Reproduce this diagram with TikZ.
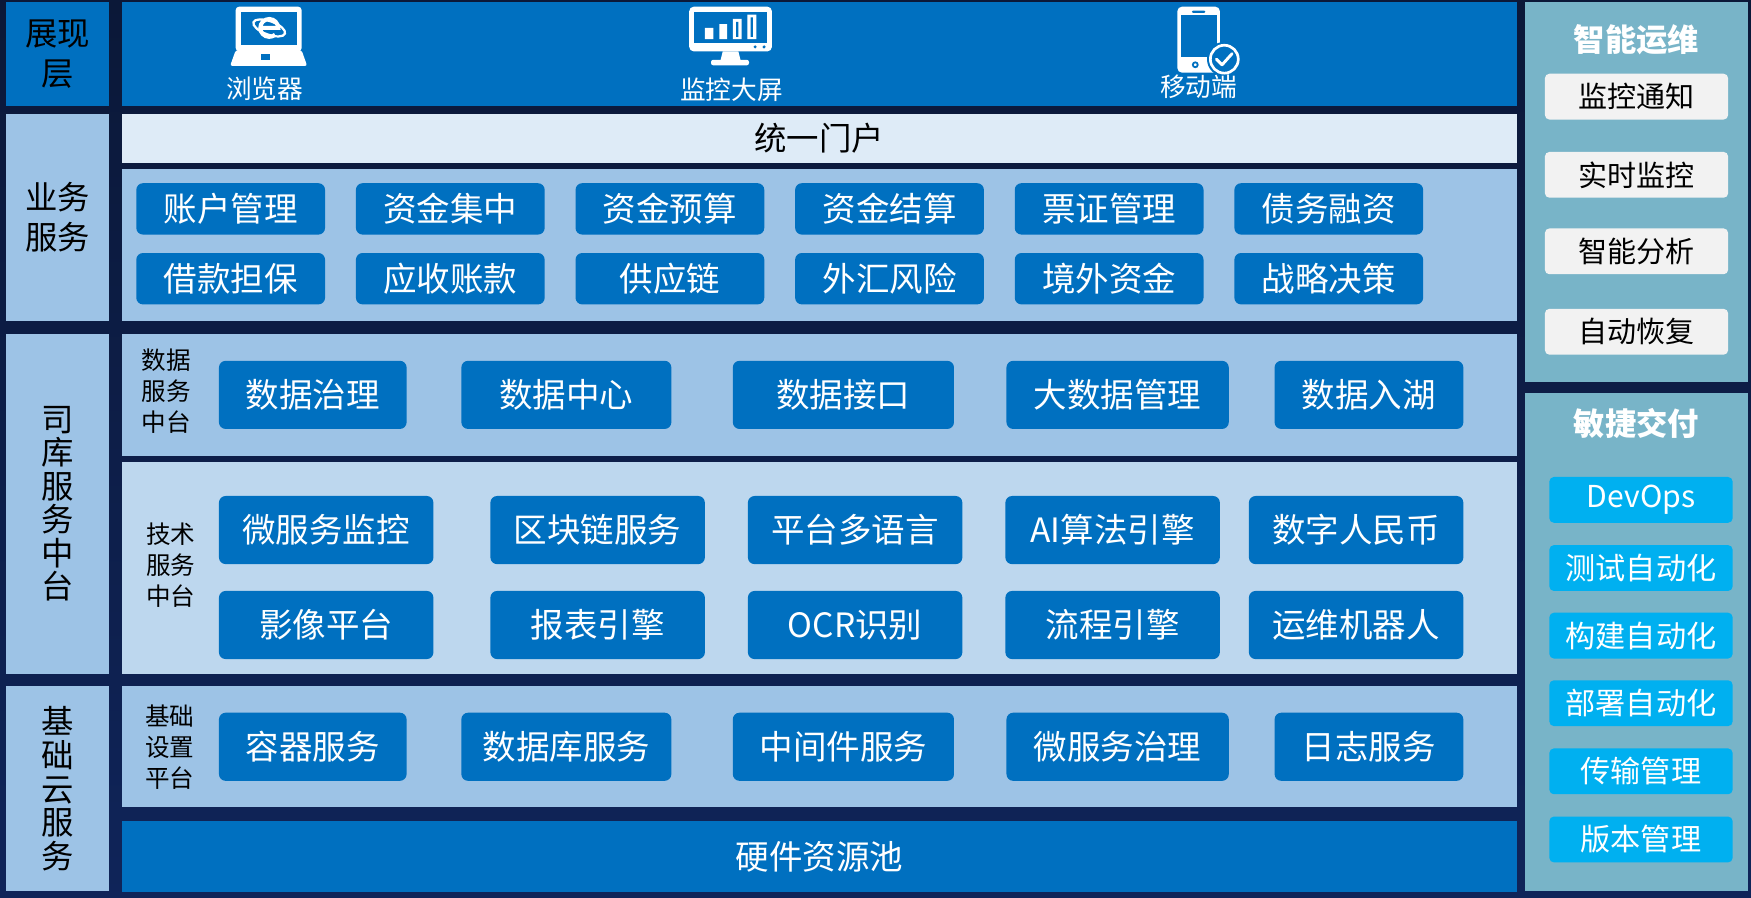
\documentclass[tikz,border=0pt]{standalone}
\usepackage{fontspec}
\setmainfont{Noto Sans CJK SC}
\usetikzlibrary{positioning}
\definecolor{navytop}{HTML}{0B1838}
\definecolor{navybot}{HTML}{0F2459}
\definecolor{mainblue}{HTML}{0070C0}
\definecolor{lightblue}{HTML}{9DC3E6}
\definecolor{paleblue}{HTML}{BDD7EE}
\definecolor{portal}{HTML}{DEEBF7}
\definecolor{teal}{HTML}{78B4C8}
\definecolor{opsgray}{HTML}{F2F2F2}
\definecolor{cyanbox}{HTML}{00B0F0}
\begin{document}
\begin{tikzpicture}[x=0.5pt, y=-0.5pt, every node/.style={inner sep=0pt, outer sep=0pt}]
\tikzstyle{panel}=[rectangle, minimum width=624.5pt]
\tikzstyle{cell}=[rectangle, fill=lightblue, minimum width=46.5pt, text=black, align=center, font=\fontsize{14.5pt}{18pt}\selectfont]
\tikzstyle{side}=[rectangle, fill=teal, minimum width=100pt]
\tikzstyle{bluebox}=[rectangle, rounded corners=3pt, fill=mainblue, text=white, minimum height=23pt, font=\fontsize{15pt}{18pt}\selectfont]
\tikzstyle{sublabel}=[align=center, text=black, font=\fontsize{11pt}{14pt}\selectfont]
\tikzstyle{toplabel}=[text=white, font=\fontsize{11.5pt}{14pt}\selectfont]
\tikzstyle{sidetitle}=[text=white, font=\fontsize{14pt}{16pt}\selectfont\bfseries]
\tikzstyle{opsbox}=[rectangle, rounded corners=2pt, fill=opsgray, text=black, minimum width=82pt, minimum height=20.5pt, font=\fontsize{13pt}{16pt}\selectfont]
\tikzstyle{agilebox}=[rectangle, rounded corners=2pt, fill=cyanbox, text=white, minimum width=82pt, minimum height=20.5pt, font=\fontsize{13.5pt}{16pt}\selectfont]
\useasboundingbox (0,0) rectangle (1567.5,803);
\shade[top color=navytop, bottom color=navybot] (0,0) rectangle (1567.5,803);
% left column
\node[cell, fill=mainblue, minimum height=46.5pt] (show) at (51.5,48.5) {展现\\层};
\node[cell, minimum height=92.5pt] (biz) at (51.5,194.5) {业务\\服务};
\node[cell, minimum height=152pt, font=\fontsize{14.5pt}{15pt}\selectfont] (treasury) at (51.5,451) {司\\库\\服\\务\\中\\台};
\node[cell, minimum height=92pt, font=\fontsize{14.5pt}{15pt}\selectfont] (cloud) at (51.5,706) {基\\础\\云\\服\\务};
% main panels
\node[panel, fill=mainblue, minimum height=46.5pt] (showpanel) at (733.5,48.5) {};
\node[panel, fill=portal, minimum height=22pt, font=\fontsize{14.5pt}{16pt}\selectfont] (portalbar) at (733.5,124) {统一门户};
\node[panel, fill=lightblue, minimum height=68pt] (bizpanel) at (733.5,219) {};
\node[panel, fill=lightblue, minimum height=54.5pt] (datapanel) at (733.5,353.5) {};
\node[panel, fill=paleblue, minimum height=94.75pt] (techpanel) at (733.5,508.25) {};
\node[panel, fill=lightblue, minimum height=54.25pt] (basepanel) at (733.5,668.25) {};
\node[panel, fill=mainblue, minimum height=31.75pt, text=white, font=\fontsize{15pt}{18pt}\selectfont] (hardware) at (733.5,766.75) {硬件资源池};
% right panels
\node[side, minimum height=170pt] (opspanel) at (1465,172) {};
\node[side, minimum height=223pt] (agilepanel) at (1465,575) {};
% icons: browser
\fill[white, rounded corners=1.5pt] (211,6) rectangle (270,46);
\fill[mainblue] (215.5,10.5) rectangle (266,40);
\fill[white, rounded corners=1pt] (211,45) -- (270,45) -- (275,59) -- (206,59) -- cycle;
\fill[mainblue] (233.5,48.5) rectangle (241.5,54);
\draw[white, line width=1pt, rotate around={-20:(241,25)}] (241,25) ellipse (15 and 6);
\draw[white, line width=1.8pt] (233,25) -- (249,25) arc (0:-310:8);
\node[toplabel] (browser) at (237,79) {浏览器};
% icons: big screen
\fill[white, rounded corners=2pt] (617,6) rectangle (691,46);
\fill[mainblue] (621,10.5) rectangle (687,38.5);
\fill[mainblue] (676,42) circle (1.5) (684,42) circle (1.5);
\fill[white] (647,46) -- (661,46) -- (663,54) -- (645,54) -- cycle;
\fill[white, rounded corners=1pt] (636.5,53.5) rectangle (670.5,58.5);
\fill[white] (631,25) rectangle (638.5,35) (644,21.5) rectangle (651,35)
  (656,17) rectangle (664,35) (669,13) rectangle (677,35);
\fill[mainblue] (659,19.5) rectangle (661,33) (672,15.5) rectangle (674,33);
\node[toplabel] (screen) at (655,80) {监控大屏};
% icons: mobile
\fill[white, rounded corners=2pt] (1054,6) rectangle (1092,65);
\fill[mainblue] (1057,13.5) rectangle (1089.5,51);
\fill[mainblue, rounded corners=0.5pt] (1067,9.5) rectangle (1079,11.5);
\draw[mainblue, line width=0.8pt] (1070,58) circle (2.2);
\fill[mainblue] (1096,53) circle (15.5);
\draw[white, line width=1.2pt, fill=mainblue] (1096,53) circle (12.5);
\draw[white, line width=1.3pt, line cap=round, line join=round] (1089,53) -- (1094,58) -- (1103,48);
\node[toplabel] (mobile) at (1073,78) {移动端};
% business boxes
\foreach \t [count=\i from 0] in {账户管理,资金集中,资金预算,资金结算,票证管理,债务融资}
  \node[bluebox, minimum width=84.5pt] (bizA\i) at (206.5+196.6*\i,187) {\t};
\foreach \t [count=\i from 0] in {借款担保,应收账款,供应链,外汇风险,境外资金,战略决策}
  \node[bluebox, minimum width=84.5pt] (bizB\i) at (206.5+196.6*\i,249.5) {\t};
% data and tech middle platform
\node[sublabel] (datalabel) at (149,350) {数据\\服务\\中台};
\foreach \x/\w/\t [count=\i] in {280/168/数据治理,507/188/数据中心,755/198/数据接口,1000.5/199/大数据管理,1225.5/169/数据入湖}
  \node[bluebox, minimum width=\w*0.5pt, minimum height=30.5pt] (data\i) at (\x,353.5) {\t};
\node[sublabel] (techlabel) at (153,506) {技术\\服务\\中台};
\foreach \x/\t [count=\i] in {292/微服务监控,535/区块链服务,765.5/平台多语言,996/AI算法引擎,1214/数字人民币}
  \node[bluebox, minimum width=96pt, minimum height=30.5pt] (techA\i) at (\x,474.5) {\t};
\foreach \x/\t [count=\i] in {292/影像平台,535/报表引擎,765.5/OCR识别,996/流程引擎,1214/运维机器人}
  \node[bluebox, minimum width=96pt, minimum height=30.5pt] (techB\i) at (\x,559.5) {\t};
% base cloud
\node[sublabel] (baselabel) at (152,669) {基础\\设置\\平台};
\foreach \x/\w/\t [count=\i] in {280/168/容器服务,507/188/数据库服务,755/198/中间件服务,1000.5/199/微服务治理,1225.5/169/日志服务}
  \node[bluebox, minimum width=\w*0.5pt, minimum height=30.5pt] (base\i) at (\x,668.5) {\t};
% right side
\node[sidetitle] (opstitle) at (1465,36) {智能运维};
\foreach \y/\t [count=\i] in {86.5/监控通知,156.5/实时监控,225/智能分析,297/自动恢复}
  \node[opsbox] (ops\i) at (1465,\y) {\t};
\node[sidetitle] (agiletitle) at (1465,379) {敏捷交付};
\foreach \y/\t [count=\i] in {447.5/DevOps,508.5/测试自动化,569/构建自动化,629.5/部署自动化,690.5/传输管理,751.5/版本管理}
  \node[agilebox] (agile\i) at (1469,\y) {\t};
\end{tikzpicture}
\end{document}
